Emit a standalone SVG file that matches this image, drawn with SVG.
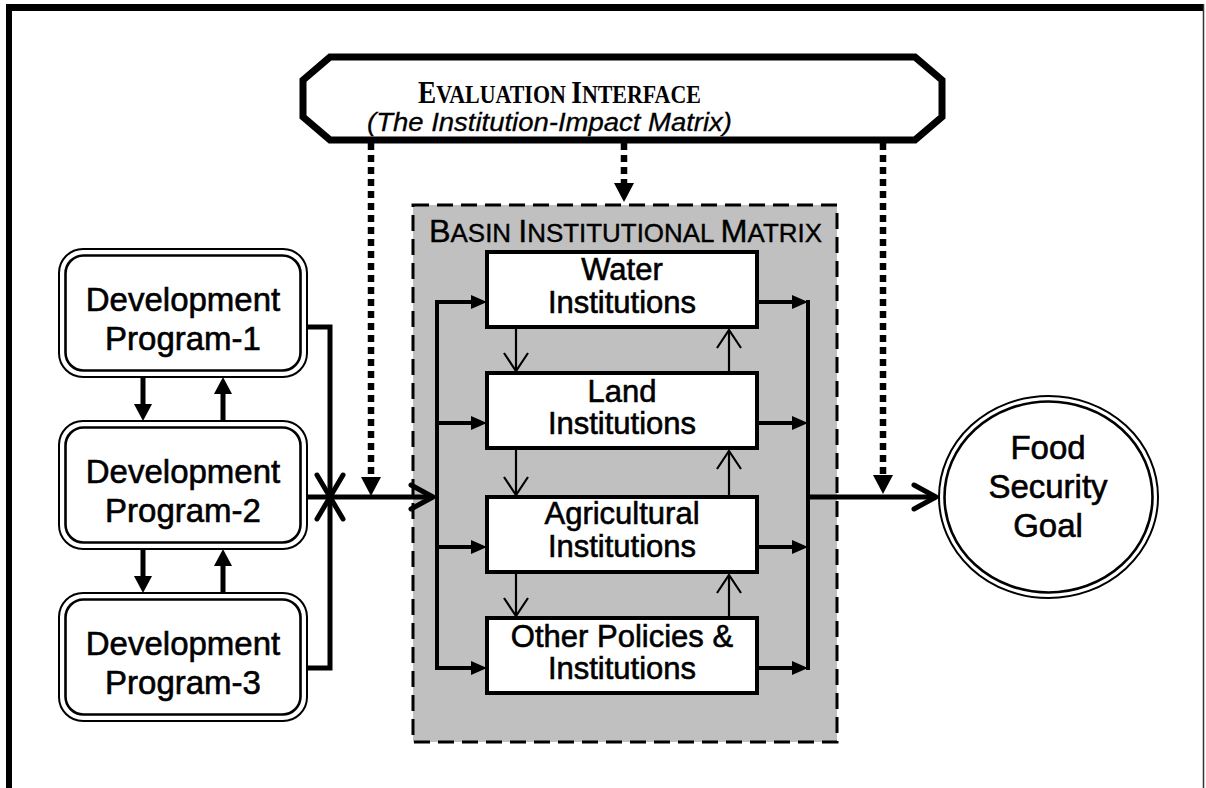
<svg xmlns="http://www.w3.org/2000/svg" width="1206" height="788" viewBox="0 0 1206 788">
<defs>
<style>
.t{font-family:"Liberation Sans",Arial,sans-serif;fill:#000;text-anchor:middle;stroke:#000;stroke-width:0.6}
.dev{font-size:33px}
.inst{font-size:31px}
.thick{stroke:#000;stroke-width:5;fill:none}
.bus{stroke:#000;stroke-width:4;fill:none}
.thin{stroke:#000;stroke-width:2.2;fill:none}
.dot{stroke:#000;stroke-width:6.5;fill:none;stroke-dasharray:7 5}
.tri{fill:#000}
.box{fill:#fff;stroke:#000;stroke-width:4}
.o{fill:#fff;stroke:#000;stroke-width:2}
.i{fill:none;stroke:#000;stroke-width:2.6}
</style>
</defs>
<rect width="1206" height="788" fill="#fff"/>
<g id="frame">
<rect x="6" y="4" width="1198" height="7" fill="#000"/>
<rect x="6" y="4" width="6" height="784" fill="#000"/>
<line x1="1203.5" y1="4" x2="1203.5" y2="788" stroke="#333" stroke-width="1.5"/>
</g>
<g id="basin-matrix">
<rect x="413" y="205" width="424" height="537" fill="#c0c0c0" stroke="#000" stroke-width="3" stroke-dasharray="16 8"/>
<text x="429" y="242" style="font-family:'Liberation Sans',Arial,sans-serif;font-size:25.6px;stroke:#000;stroke-width:0.4" textLength="393" lengthAdjust="spacingAndGlyphs"><tspan style="font-size:32px">B</tspan>ASIN <tspan style="font-size:32px">I</tspan>NSTITUTIONAL <tspan style="font-size:32px">M</tspan>ATRIX</text>
</g>
<g id="evaluation-interface">
<polygon points="330,57 915,57 942,80 942,117 915,140 330,140 303,117 303,80" fill="#fff" stroke="#000" stroke-width="7"/>
<text transform="translate(418,103) scale(0.878,1)" style="font-family:'Liberation Serif','Times New Roman',serif;font-weight:bold;font-size:25px"><tspan style="font-size:31px">E</tspan>VALUATION <tspan style="font-size:31px">I</tspan>NTERFACE</text>
<text x="367" y="131" style="font-family:'Liberation Sans',Arial,sans-serif;font-style:italic;font-size:25.5px;stroke:#000;stroke-width:0.3" textLength="365" lengthAdjust="spacingAndGlyphs">(The Institution-Impact Matrix)</text>
</g>
<g id="dev-program-1">
<rect class="o" x="59" y="249" width="248" height="128" rx="24"/>
<rect class="i" x="65.5" y="255.5" width="235" height="115" rx="18"/>
<text class="t dev" x="183" y="311">Development</text>
<text class="t dev" x="183" y="350">Program-1</text>
</g>
<g id="dev-program-2">
<rect class="o" x="59" y="421" width="248" height="128" rx="24"/>
<rect class="i" x="65.5" y="427.5" width="235" height="115" rx="18"/>
<text class="t dev" x="183" y="483">Development</text>
<text class="t dev" x="183" y="522">Program-2</text>
</g>
<g id="dev-program-3">
<rect class="o" x="59" y="593" width="248" height="128" rx="24"/>
<rect class="i" x="65.5" y="599.5" width="235" height="115" rx="18"/>
<text class="t dev" x="183" y="655">Development</text>
<text class="t dev" x="183" y="694">Program-3</text>
</g>
<g id="water-institutions">
<rect class="box" x="487" y="252" width="270" height="75"/>
<text class="t inst" x="622" y="280">Water</text>
<text class="t inst" x="622" y="313">Institutions</text>
</g>
<g id="land-institutions">
<rect class="box" x="487" y="373" width="270" height="75"/>
<text class="t inst" x="622" y="402">Land</text>
<text class="t inst" x="622" y="434">Institutions</text>
</g>
<g id="agricultural-institutions">
<rect class="box" x="487" y="497" width="270" height="75"/>
<text class="t inst" x="622" y="524">Agricultural</text>
<text class="t inst" x="622" y="557">Institutions</text>
</g>
<g id="other-institutions">
<rect class="box" x="487" y="618" width="270" height="75"/>
<text class="t inst" x="622" y="647">Other Policies &amp;</text>
<text class="t inst" x="622" y="679">Institutions</text>
</g>
<g id="food-security-goal">
<ellipse cx="1048.5" cy="497" rx="109.5" ry="101" fill="#fff" stroke="#000" stroke-width="2"/>
<ellipse cx="1048.5" cy="497" rx="104" ry="95.5" fill="none" stroke="#000" stroke-width="2.6"/>
<text class="t dev" x="1048" y="459">Food</text>
<text class="t dev" x="1048" y="498">Security</text>
<text class="t dev" x="1048" y="537">Goal</text>
</g>
<g id="connectors">
<line class="thick" x1="143" y1="377" x2="143" y2="406"/>
<polygon class="tri" points="134,404 152,404 143,421"/>
<line class="thick" x1="223" y1="421" x2="223" y2="392"/>
<polygon class="tri" points="214,394 232,394 223,377"/>
<line class="thick" x1="143" y1="549" x2="143" y2="578"/>
<polygon class="tri" points="134,576 152,576 143,593"/>
<line class="thick" x1="223" y1="593" x2="223" y2="564"/>
<polygon class="tri" points="214,566 232,566 223,549"/>
<polyline class="thick" points="307,327 330,327 330,497"/>
<polyline class="thick" points="307,668 330,668 330,497"/>
<polyline class="thick" stroke-linecap="round" stroke-linejoin="round" points="317,475 330,497 343,475"/>
<polyline class="thick" stroke-linecap="round" stroke-linejoin="round" points="317,519 330,497 343,519"/>
<line class="thick" x1="307" y1="497" x2="433" y2="497"/>
<polyline class="thick" stroke-linecap="round" stroke-linejoin="round" points="411,485 433,497 411,509"/>
<line class="dot" x1="371" y1="143" x2="371" y2="479"/>
<polygon class="tri" points="361,477 381,477 371,496"/>
<line class="dot" x1="624" y1="143" x2="624" y2="185"/>
<polygon class="tri" points="614,183 634,183 624,202"/>
<line class="dot" x1="883" y1="143" x2="883" y2="477"/>
<polygon class="tri" points="873,475 893,475 883,494"/>
<line class="bus" x1="437" y1="300" x2="437" y2="670"/>
<line class="bus" x1="435" y1="302" x2="473" y2="302"/>
<polygon class="tri" points="471,295 487,302 471,309"/>
<line class="bus" x1="437" y1="423" x2="473" y2="423"/>
<polygon class="tri" points="471,416 487,423 471,430"/>
<line class="bus" x1="437" y1="547" x2="473" y2="547"/>
<polygon class="tri" points="471,540 487,547 471,554"/>
<line class="bus" x1="435" y1="668" x2="473" y2="668"/>
<polygon class="tri" points="471,661 487,668 471,675"/>
<line class="bus" x1="808" y1="300" x2="808" y2="670"/>
<line class="bus" x1="757" y1="302" x2="794" y2="302"/>
<polygon class="tri" points="792,295 808,302 792,309"/>
<line class="bus" x1="757" y1="423" x2="794" y2="423"/>
<polygon class="tri" points="792,416 808,423 792,430"/>
<line class="bus" x1="757" y1="547" x2="794" y2="547"/>
<polygon class="tri" points="792,540 808,547 792,554"/>
<line class="bus" x1="757" y1="668" x2="794" y2="668"/>
<polygon class="tri" points="792,661 808,668 792,675"/>
<line class="thick" x1="808" y1="497" x2="936" y2="497"/>
<polyline class="thick" stroke-linecap="round" stroke-linejoin="round" points="914,485 936,497 914,509"/>
<line class="thin" x1="516" y1="327" x2="516" y2="371"/>
<polyline class="thin" points="504,353 516,371 528,353"/>
<line class="thin" x1="729" y1="373" x2="729" y2="330"/>
<polyline class="thin" points="717,348 729,330 741,348"/>
<line class="thin" x1="516" y1="448" x2="516" y2="495"/>
<polyline class="thin" points="504,477 516,495 528,477"/>
<line class="thin" x1="729" y1="497" x2="729" y2="451"/>
<polyline class="thin" points="717,469 729,451 741,469"/>
<line class="thin" x1="516" y1="572" x2="516" y2="616"/>
<polyline class="thin" points="504,598 516,616 528,598"/>
<line class="thin" x1="729" y1="618" x2="729" y2="575"/>
<polyline class="thin" points="717,593 729,575 741,593"/>
</g>
</svg>
